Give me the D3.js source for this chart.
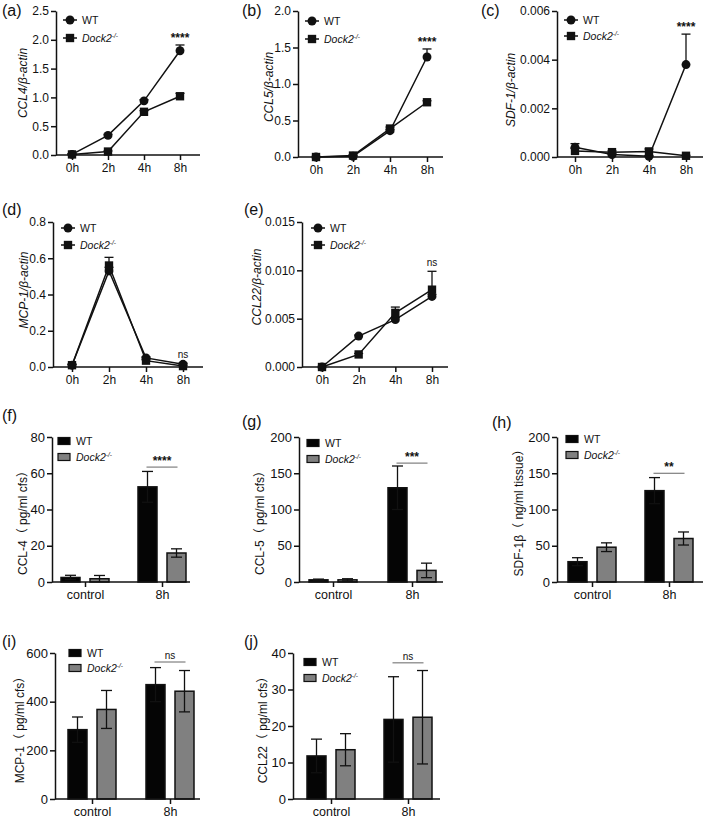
<!DOCTYPE html>
<html><head><meta charset="utf-8">
<script src="https://cdn.jsdelivr.net/npm/d3@7"></script>
<style>
body{margin:0;background:#fff;}
svg{display:block;font-family:"Liberation Sans","Noto Sans CJK SC",Arial,sans-serif;}
</style></head>
<body><svg id="c" width="709" height="820"></svg>
<script>
// ---------- DATA ----------
const timeLabels = ["0h", "2h", "4h", "8h"];
const groupLabels = ["control", "8h"];
const panelLetters = ["(a)", "(b)", "(c)", "(d)", "(e)", "(f)", "(g)", "(h)", "(i)", "(j)"];

// (a) CCL4/β-actin
const ccl4WT = [0.01, 0.34, 0.94, 1.81];
const ccl4WTErr = [0.01, 0.02, 0.02, 0.10];
const ccl4KO = [0.01, 0.06, 0.75, 1.02];
const ccl4KOErr = [0.01, 0.01, 0.02, 0.05];
// (b) CCL5/β-actin
const ccl5WT = [0.00, 0.01, 0.36, 1.37];
const ccl5WTErr = [0.00, 0.01, 0.02, 0.11];
const ccl5KO = [0.00, 0.02, 0.39, 0.75];
const ccl5KOErr = [0.00, 0.01, 0.02, 0.02];
// (c) SDF-1/β-actin
const sdf1WT = [0.0004, 0.0001, 0.00003, 0.0038];
const sdf1WTErr = [0.00015, 0.00003, 0.00002, 0.00125];
const sdf1KO = [0.00025, 0.0002, 0.00023, 0.00005];
const sdf1KOErr = [0.0001, 0.00005, 0.0001, 0.00002];
// (d) MCP-1/β-actin
const mcp1WT = [0.01, 0.53, 0.05, 0.015];
const mcp1WTErr = [0.005, 0.02, 0.005, 0.005];
const mcp1KO = [0.01, 0.56, 0.035, 0.005];
const mcp1KOErr = [0.005, 0.045, 0.005, 0.003];
// (e) CCL22/β-actin
const ccl22WT = [0.0, 0.0032, 0.0049, 0.0073];
const ccl22WTErr = [0.0, 0.0001, 0.0002, 0.0002];
const ccl22KO = [0.0, 0.0013, 0.0056, 0.0080];
const ccl22KOErr = [0.0, 0.0001, 0.0006, 0.0019];
const lineSig = ["****", "****", "****", "ns", "ns"];

// (f) CCL-4 pg/ml cfs
const fWT = [2.5, 52.5], fWTErr = [1.2, 8.5];
const fKO = [1.8, 16.0], fKOErr = [1.8, 2.3];
// (g) CCL-5
const gWT = [3, 130], gWTErr = [1, 30];
const gKO = [3, 16], gKOErr = [1.5, 10];
// (h) SDF-1β
const hWT = [28, 126], hWTErr = [5.5, 18];
const hKO = [48, 60], hKOErr = [6, 9];
// (i) MCP-1
const iWT = [285, 470], iWTErr = [52, 70];
const iKO = [368, 443], iKOErr = [78, 85];
// (j) CCL22
const jWT = [11.8, 21.8], jWTErr = [4.6, 11.7];
const jKO = [13.5, 22.4], jKOErr = [4.4, 12.8];
const barSig = ["****", "***", "**", "ns", "ns"];
const barSigLevel = [63.4, 164, 150, 563, 37.3];

// ---------- DRAWING ----------
const svg = d3.select("#c");
const FS = 12;
const greyFill = "#808080";

function styleAxis(sel) {
  sel.selectAll("path,line").attr("stroke", "#111").attr("stroke-width", 1.5);
  sel.selectAll("text").attr("font-size", FS).attr("fill", "#111");
}

function dockText(t, size) {
  t.append("tspan").attr("font-style", "italic").text("Dock2");
  t.append("tspan").attr("font-style", "italic").attr("font-size", size * 0.62)
    .attr("dy", -size * 0.38).text("-/-");
}

function yTitle(x, y, txt, italic) {
  svg.append("text").attr("transform", `translate(${x},${y}) rotate(-90)`)
    .attr("text-anchor", "middle").attr("dominant-baseline", "middle")
    .attr("font-size", FS).attr("font-style", italic ? "italic" : "normal")
    .attr("fill", "#111").text(txt);
}

function panelLabel(i, x, y) {
  svg.append("text").attr("x", x).attr("y", y).attr("font-size", 16)
    .attr("fill", "#111").text(panelLetters[i]);
}

function lineChart(o) {
  const x = d3.scalePoint().domain(timeLabels).range([o.x0, o.x1]);
  const y = d3.scaleLinear().domain([0, o.ymax]).range([o.yb, o.yt]);
  const ya = svg.append("g").attr("transform", `translate(${o.ax},0)`)
    .call(d3.axisLeft(y).tickValues(o.ticks).tickFormat(d3.format(o.fmt)).tickSize(5).tickSizeOuter(0).tickPadding(2));
  styleAxis(ya);
  const xa = svg.append("g").attr("transform", `translate(0,${o.yb})`)
    .call(d3.axisBottom(x).tickSize(5).tickSizeOuter(0).tickPadding(3));
  xa.select(".domain").remove();
  xa.append("line").attr("x1", o.ax).attr("x2", o.axEnd).attr("y1", 0).attr("y2", 0);
  styleAxis(xa);

  const series = [
    {v: o.wt, e: o.wtE, shape: d3.symbolCircle, size: 62},
    {v: o.ko, e: o.koE, shape: d3.symbolSquare, size: 70}
  ];
  const line = d3.line().x((d, i) => x(timeLabels[i])).y(d => y(d));
  series.forEach(s => {
    svg.append("path").attr("d", line(s.v)).attr("fill", "none")
      .attr("stroke", "#111").attr("stroke-width", 1.5);
  });
  series.forEach(s => {
    s.v.forEach((v, i) => {
      const cx = x(timeLabels[i]);
      if (s.e[i] > 0) {
        svg.append("line").attr("x1", cx).attr("x2", cx).attr("y1", y(v)).attr("y2", y(v + s.e[i]))
          .attr("stroke", "#111").attr("stroke-width", 1.3);
        svg.append("line").attr("x1", cx - 4.5).attr("x2", cx + 4.5).attr("y1", y(v + s.e[i])).attr("y2", y(v + s.e[i]))
          .attr("stroke", "#111").attr("stroke-width", 1.3);
      }
    });
    svg.selectAll(null).data(s.v).enter().append("path")
      .attr("transform", (d, i) => `translate(${x(timeLabels[i])},${y(d)})`)
      .attr("d", d3.symbol().type(s.shape).size(s.size)).attr("fill", "#111");
  });
  // significance
  const top = Math.max(o.wt[3] + o.wtE[3], o.ko[3] + o.koE[3]);
  const isStar = o.sig !== "ns";
  svg.append("text").attr("x", x("8h")).attr("y", y(top) - (isStar ? 3 : 5))
    .attr("text-anchor", "middle").attr("font-size", isStar ? 12 : 10)
    .attr("font-weight", isStar ? "bold" : "normal").attr("fill", "#111")
    .text(o.sig);
  // legend
  const legend = [{shape: d3.symbolCircle, size: 62, lab: "WT"}, {shape: d3.symbolSquare, size: 70, lab: "KO"}];
  legend.forEach((l, k) => {
    const ly = o.ly + k * o.lgap;
    svg.append("line").attr("x1", o.lx - 7).attr("x2", o.lx + 7).attr("y1", ly).attr("y2", ly)
      .attr("stroke", "#111").attr("stroke-width", 1.5);
    svg.append("path").attr("transform", `translate(${o.lx},${ly})`)
      .attr("d", d3.symbol().type(l.shape).size(l.size)).attr("fill", "#111");
    const t = svg.append("text").attr("x", o.lx + 12).attr("y", ly).attr("dy", "0.35em")
      .attr("font-size", 10.5).attr("fill", "#111");
    if (l.lab === "WT") t.text("WT"); else dockText(t, 10.5);
  });
}

function barChart(o) {
  const xc = d3.scalePoint().domain(groupLabels).range([o.c0, o.c1]);
  const y = d3.scaleLinear().domain([0, o.ymax]).range([o.yb, o.yt]);
  const bw = 19, off = 14.5;
  const ya = svg.append("g").attr("transform", `translate(${o.ax},0)`)
    .call(d3.axisLeft(y).tickValues(o.ticks).tickSize(5).tickSizeOuter(0).tickPadding(2));
  styleAxis(ya);
  ya.selectAll("text").attr("font-size", 13);
  const series = [
    {v: o.wt, e: o.wtE, fill: "#050505", dx: -off},
    {v: o.ko, e: o.koE, fill: greyFill, dx: off}
  ];
  series.forEach(s => {
    s.v.forEach((v, i) => {
      const cx = xc(groupLabels[i]) + s.dx;
      svg.append("rect").attr("x", cx - bw / 2).attr("width", bw)
        .attr("y", y(v)).attr("height", o.yb - y(v))
        .attr("fill", s.fill).attr("stroke", "#111").attr("stroke-width", 1.5);
      const lo = Math.max(0, v - s.e[i]), hi = v + s.e[i];
      svg.append("line").attr("x1", cx).attr("x2", cx).attr("y1", y(lo)).attr("y2", y(hi))
        .attr("stroke", "#111").attr("stroke-width", 1.3);
      [lo, hi].forEach(val => {
        if (val > 0) svg.append("line").attr("x1", cx - 5.5).attr("x2", cx + 5.5)
          .attr("y1", y(val)).attr("y2", y(val)).attr("stroke", "#111").attr("stroke-width", 1.3);
      });
    });
  });
  const xa = svg.append("g").attr("transform", `translate(0,${o.yb})`)
    .call(d3.axisBottom(xc).tickSize(5).tickSizeOuter(0).tickPadding(3));
  xa.select(".domain").remove();
  xa.append("line").attr("x1", o.ax).attr("x2", o.axEnd).attr("y1", 0).attr("y2", 0);
  styleAxis(xa);
  xa.selectAll("text").attr("font-size", 12.5);
  // significance
  const c8 = xc("8h");
  const sy = y(o.sigLevel);
  svg.append("line").attr("x1", c8 - off - 1).attr("x2", c8 + off + 1).attr("y1", sy).attr("y2", sy)
    .attr("stroke", "#666").attr("stroke-width", 1);
  const isStar = o.sig !== "ns";
  svg.append("text").attr("x", c8).attr("y", sy - (isStar ? 2 : 3)).attr("text-anchor", "middle")
    .attr("font-size", isStar ? 12 : 10).attr("font-weight", isStar ? "bold" : "normal")
    .attr("fill", "#111").text(o.sig);
  // legend
  [{fill: "#050505", lab: "WT"}, {fill: greyFill, lab: "KO"}].forEach((l, k) => {
    const ly = o.ly + k * o.lgap;
    svg.append("rect").attr("x", o.lx).attr("y", ly - 3.5).attr("width", 12).attr("height", 7)
      .attr("fill", l.fill).attr("stroke", "#111").attr("stroke-width", 1.2);
    const t = svg.append("text").attr("x", o.lx + 18).attr("y", ly).attr("dy", "0.35em")
      .attr("font-size", 10.5).attr("fill", "#111");
    if (l.lab === "WT") t.text("WT"); else dockText(t, 10.5);
  });
}

// ---- line panels ----
lineChart({x0: 72, x1: 180, ax: 56, axEnd: 200, yt: 11, yb: 155, ymax: 2.5, ticks: [0, 0.5, 1, 1.5, 2, 2.5], fmt: ".1f",
  wt: ccl4WT, wtE: ccl4WTErr, ko: ccl4KO, koE: ccl4KOErr, sig: lineSig[0], lx: 70, ly: 20, lgap: 18});
yTitle(24, 83, "CCL4/β-actin", true); panelLabel(0, 2, 16);

lineChart({x0: 316, x1: 427, ax: 298, axEnd: 443, yt: 11, yb: 157, ymax: 2.0, ticks: [0, 0.5, 1, 1.5, 2], fmt: ".1f",
  wt: ccl5WT, wtE: ccl5WTErr, ko: ccl5KO, koE: ccl5KOErr, sig: lineSig[1], lx: 312, ly: 21, lgap: 18});
yTitle(270, 87, "CCL5/β-actin", true); panelLabel(1, 242, 16);

lineChart({x0: 575, x1: 686, ax: 557, axEnd: 703, yt: 11, yb: 157, ymax: 0.006, ticks: [0, 0.002, 0.004, 0.006], fmt: ".3f",
  wt: sdf1WT, wtE: sdf1WTErr, ko: sdf1KO, koE: sdf1KOErr, sig: lineSig[2], lx: 571, ly: 20, lgap: 16});
yTitle(512, 90, "SDF-1/β-actin", true); panelLabel(2, 481, 16);

lineChart({x0: 72, x1: 183, ax: 53, axEnd: 203, yt: 222, yb: 367, ymax: 0.8, ticks: [0, 0.2, 0.4, 0.6, 0.8], fmt: ".1f",
  wt: mcp1WT, wtE: mcp1WTErr, ko: mcp1KO, koE: mcp1KOErr, sig: lineSig[3], lx: 68, ly: 228, lgap: 17});
yTitle(25, 290, "MCP-1/β-actin", true); panelLabel(3, 2, 215);

lineChart({x0: 322, x1: 432, ax: 302, axEnd: 448, yt: 222, yb: 367, ymax: 0.015, ticks: [0, 0.005, 0.01, 0.015], fmt: ".3f",
  wt: ccl22WT, wtE: ccl22WTErr, ko: ccl22KO, koE: ccl22KOErr, sig: lineSig[4], lx: 318, ly: 228, lgap: 17});
yTitle(258, 287, "CCL22/β-actin", true); panelLabel(4, 244, 215);

// ---- bar panels ----
barChart({c0: 85, c1: 162, ax: 52, axEnd: 190, yt: 437, yb: 582, ymax: 80, ticks: [0, 20, 40, 60, 80],
  wt: fWT, wtE: fWTErr, ko: fKO, koE: fKOErr, sig: barSig[0], sigLevel: barSigLevel[0], lx: 58, ly: 441, lgap: 16});
yTitle(24, 520, "CCL-4（ pg/ml cfs）", false); panelLabel(5, 2, 421);

barChart({c0: 333, c1: 412, ax: 299, axEnd: 443, yt: 437, yb: 582, ymax: 200, ticks: [0, 50, 100, 150, 200],
  wt: gWT, wtE: gWTErr, ko: gKO, koE: gKOErr, sig: barSig[1], sigLevel: barSigLevel[1], lx: 307, ly: 443, lgap: 16});
yTitle(261, 520, "CCL-5（ pg/ml cfs）", false); panelLabel(6, 242, 427);

barChart({c0: 592, c1: 669, ax: 557, axEnd: 703, yt: 437, yb: 582, ymax: 200, ticks: [0, 50, 100, 150, 200],
  wt: hWT, wtE: hWTErr, ko: hKO, koE: hKOErr, sig: barSig[2], sigLevel: barSigLevel[2], lx: 566, ly: 439, lgap: 16});
yTitle(520, 510, "SDF-1β（ ng/ml tissue）", false); panelLabel(7, 492, 428);

barChart({c0: 92, c1: 170, ax: 55, axEnd: 200, yt: 653, yb: 799, ymax: 600, ticks: [0, 200, 400, 600],
  wt: iWT, wtE: iWTErr, ko: iKO, koE: iKOErr, sig: barSig[3], sigLevel: barSigLevel[3], lx: 69, ly: 653, lgap: 15});
yTitle(21, 727, "MCP-1（ pg/ml cfs）", false); panelLabel(8, 2, 647);

barChart({c0: 331, c1: 408, ax: 293, axEnd: 440, yt: 653, yb: 799, ymax: 40, ticks: [0, 10, 20, 30, 40],
  wt: jWT, wtE: jWTErr, ko: jKO, koE: jKOErr, sig: barSig[4], sigLevel: barSigLevel[4], lx: 304, ly: 662, lgap: 16});
yTitle(264, 727, "CCL22（ pg/ml cfs）", false); panelLabel(9, 244, 647);
</script></body></html>
